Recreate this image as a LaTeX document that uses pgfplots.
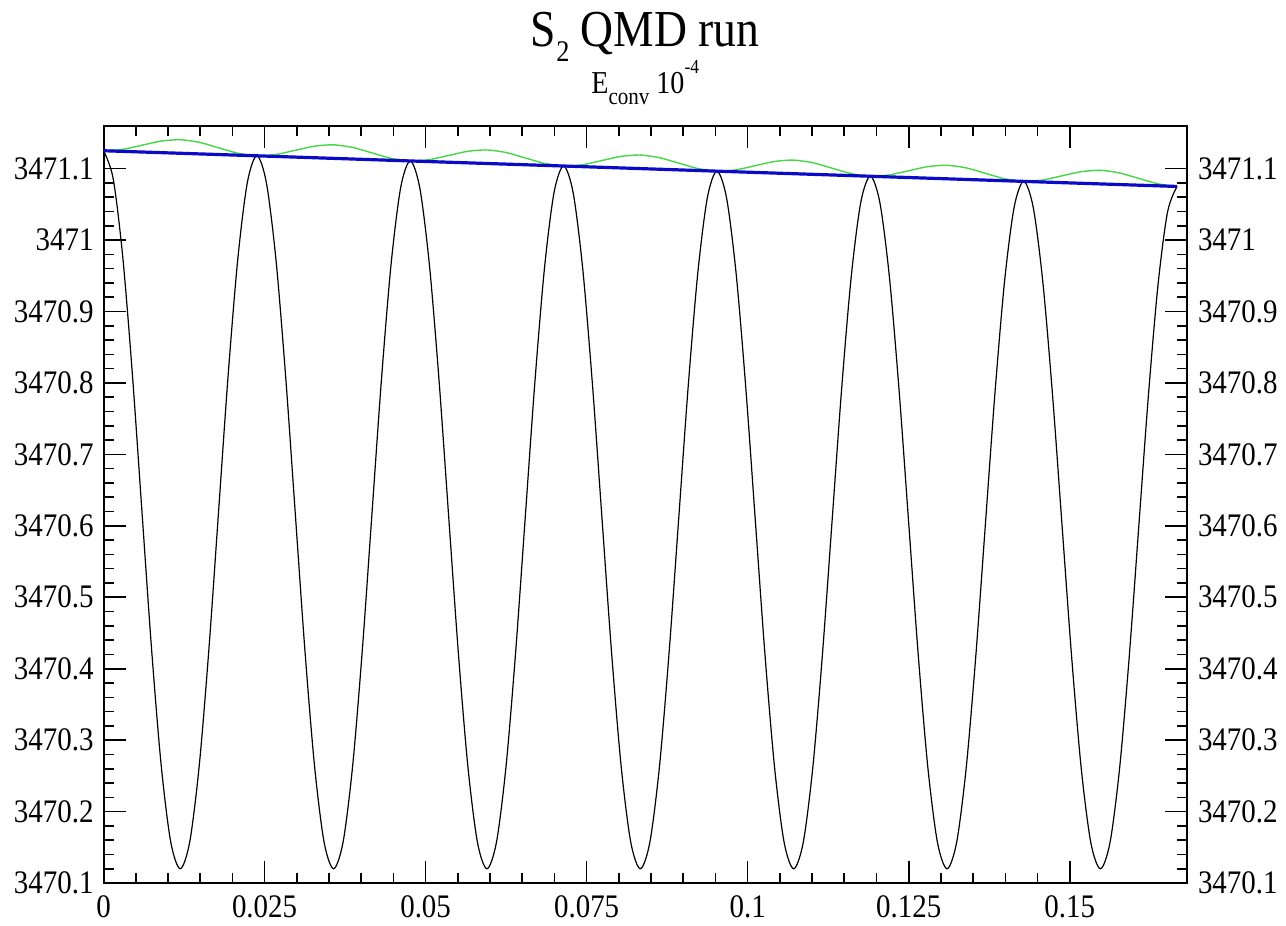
\documentclass[border=0pt]{standalone}
\usepackage{fontspec}
\setmainfont{Liberation Serif}
\newfontfamily\narrowfont[FakeStretch=0.88]{Liberation Serif}
\usepackage{pgfplots}
\usepackage{pgfplotstable}
\pgfplotsset{compat=1.18}
\definecolor{gblue}{RGB}{10,10,200}
\definecolor{ggreen}{RGB}{70,215,70}

\pgfplotstableread{
x y
0 3471.1250
0.001488 3471.0863
0.002976 3470.9771
0.004464 3470.8138
0.005952 3470.6216
0.007440 3470.4296
0.008929 3470.2667
0.010417 3470.1582
0.011905 3470.1200
0.013393 3470.1581
0.014881 3470.2665
0.016369 3470.4287
0.017857 3470.6198
0.019345 3470.8108
0.020833 3470.9725
0.022321 3471.0803
0.023810 3471.1179
0.025298 3471.0794
0.026786 3470.9710
0.028274 3470.8089
0.029762 3470.6180
0.031250 3470.4274
0.032738 3470.2657
0.034226 3470.1579
0.035714 3470.1200
0.037202 3470.1579
0.038690 3470.2654
0.040179 3470.4265
0.041667 3470.6163
0.043155 3470.8058
0.044643 3470.9664
0.046131 3471.0734
0.047619 3471.1107
0.049107 3471.0725
0.050595 3470.9649
0.052083 3470.8040
0.053571 3470.6145
0.055060 3470.4251
0.056548 3470.2646
0.058036 3470.1576
0.059524 3470.1200
0.061012 3470.1576
0.062500 3470.2644
0.063988 3470.4243
0.065476 3470.6127
0.066964 3470.8009
0.068452 3470.9603
0.069940 3471.0665
0.071429 3471.1036
0.072917 3471.0657
0.074405 3470.9588
0.075893 3470.7990
0.077381 3470.6109
0.078869 3470.4229
0.080357 3470.2636
0.081845 3470.1574
0.083333 3470.1200
0.084821 3470.1573
0.086310 3470.2633
0.087798 3470.4221
0.089286 3470.6091
0.090774 3470.7959
0.092262 3470.9542
0.093750 3471.0597
0.095238 3471.0964
0.096726 3471.0588
0.098214 3470.9527
0.099702 3470.7941
0.101190 3470.6073
0.102679 3470.4207
0.104167 3470.2626
0.105655 3470.1571
0.107143 3470.1200
0.108631 3470.1570
0.110119 3470.2623
0.111607 3470.4199
0.113095 3470.6055
0.114583 3470.7910
0.116071 3470.9481
0.117560 3471.0528
0.119048 3471.0893
0.120536 3471.0519
0.122024 3470.9466
0.123512 3470.7891
0.125000 3470.6038
0.126488 3470.4185
0.127976 3470.2615
0.129464 3470.1568
0.130952 3470.1200
0.132440 3470.1568
0.133929 3470.2613
0.135417 3470.4177
0.136905 3470.6020
0.138393 3470.7860
0.139881 3470.9421
0.141369 3471.0459
0.142857 3471.0821
0.144345 3471.0451
0.145833 3470.9405
0.147321 3470.7842
0.148810 3470.6002
0.150298 3470.4163
0.151786 3470.2605
0.153274 3470.1565
0.154762 3470.1200
0.156250 3470.1565
0.157738 3470.2602
0.159226 3470.4155
0.160714 3470.5984
0.162202 3470.7811
0.163690 3470.9359
0.165179 3471.0391
0.166667 3471.0750
}\blackdata

\pgfplotstableread{
x y
0 3471.1250
0.002976 3471.1269
0.005952 3471.1327
0.008929 3471.1385
0.011905 3471.1404
0.014881 3471.1367
0.017857 3471.1291
0.020833 3471.1216
0.023810 3471.1179
0.026786 3471.1198
0.029762 3471.1256
0.032738 3471.1314
0.035714 3471.1333
0.038690 3471.1296
0.041667 3471.1220
0.044643 3471.1144
0.047619 3471.1107
0.050595 3471.1126
0.053571 3471.1184
0.056548 3471.1242
0.059524 3471.1261
0.062500 3471.1225
0.065476 3471.1149
0.068452 3471.1073
0.071429 3471.1036
0.074405 3471.1055
0.077381 3471.1113
0.080357 3471.1171
0.083333 3471.1190
0.086310 3471.1153
0.089286 3471.1077
0.092262 3471.1001
0.095238 3471.0964
0.098214 3471.0983
0.101190 3471.1041
0.104167 3471.1100
0.107143 3471.1119
0.110119 3471.1082
0.113095 3471.1006
0.116071 3471.0930
0.119048 3471.0893
0.122024 3471.0912
0.125000 3471.0970
0.127976 3471.1028
0.130952 3471.1047
0.133929 3471.1010
0.136905 3471.0934
0.139881 3471.0858
0.142857 3471.0821
0.145833 3471.0841
0.148810 3471.0899
0.151786 3471.0957
0.154762 3471.0976
0.157738 3471.0939
0.160714 3471.0863
0.163690 3471.0787
0.166667 3471.0750
}\greendata

\pgfplotstableread{
x y
0 3471.1250
0.023810 3471.1179
0.047619 3471.1107
0.071429 3471.1036
0.095238 3471.0964
0.119048 3471.0893
0.142857 3471.0821
0.166667 3471.0750
}\bluedata

\begin{document}
\begin{tikzpicture}
\pgfplotsset{
  common/.style={
    scale only axis,
    width=541.5bp, height=378.5bp,
    xmin=0, xmax=0.1682,
    ymin=3470.1, ymax=3471.16,
    axis line style={line width=1bp},
    tick align=inside,
    major tick length=11bp,
    minor tick length=5bp,
    every tick/.style={line width=0.8bp, black},
    ytick={3470.1,3470.2,3470.3,3470.4,3470.5,3470.6,3470.7,3470.8,3470.9,3471,3471.1},
    yticklabels={3470.1,3470.2,3470.3,3470.4,3470.5,3470.6,3470.7,3470.8,3470.9,3471,3471.1},
    minor y tick num=4,
    tick label style={font=\narrowfont\fontsize{16.5}{18}\selectfont},
    /pgf/number format/assume math mode=true,
  }
}
\begin{axis}[common, name=main,
    xtick={0,0.025,0.05,0.075,0.1,0.125,0.15},
    xticklabels={0,0.025,0.05,0.075,0.1,0.125,0.15},
    minor x tick num=4,
    xtick pos=both, ytick pos=both,
    xticklabel pos=lower, yticklabel pos=left,
    xticklabel style={yshift=-3bp},
    yticklabel style={xshift=-1.5bp},
    clip=true]
\addplot[ggreen, line width=0.7bp, smooth, tension=0.4] table[x=x,y=y] {\greendata};
\addplot[black, line width=0.6bp, smooth, tension=0.5] table[x=x,y=y] {\blackdata};
\addplot[gblue, line width=1.6bp] table[x=x,y=y] {\bluedata};
\end{axis}
\begin{axis}[common,
    xtick=\empty,
    ytick pos=right, yticklabel pos=right,
    yticklabel style={xshift=2bp},
    minor y tick num=0,
    major tick length=0pt,
    axis line style={draw=none}]
\end{axis}
\node[anchor=base, inner sep=0pt, font=\narrowfont\fontsize{26}{28}\selectfont] at ([yshift=39.4bp]main.north) {S\raisebox{-7.5bp}{\fontsize{15}{15}\selectfont 2} QMD run};
\node[anchor=base, inner sep=0pt, font=\narrowfont\fontsize{16}{18}\selectfont] at ([yshift=15.9bp]main.north) {E\raisebox{-5.5bp}{\fontsize{12}{12}\selectfont conv} 10\raisebox{10bp}{\fontsize{10}{10}\selectfont -4}};
\path ([shift={(-51.75bp,-19.15bp)}]main.south west) rectangle ([shift={(49.5bp,62.85bp)}]main.north east);
\end{tikzpicture}
\end{document}
